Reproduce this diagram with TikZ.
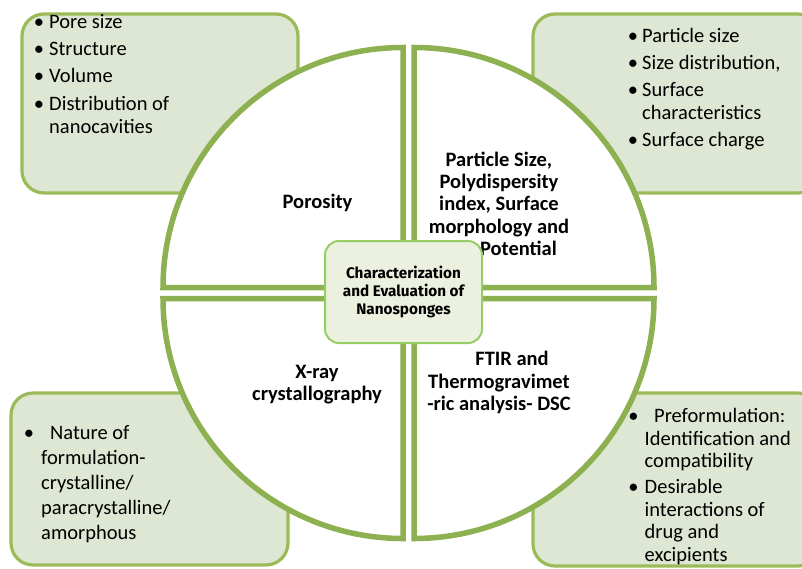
\documentclass[tikz,border=0pt]{standalone}
\usepackage{fontspec}
\setmainfont{Carlito}
\newfontfamily\hubfont{Fira Sans}
\definecolor{qgreen}{RGB}{141,176,80}
\definecolor{bgreen}{RGB}{155,187,89}
\definecolor{bfill}{RGB}{221,231,211}
\definecolor{hubfill}{RGB}{235,241,222}
\definecolor{hubline}{RGB}{150,205,100}
\begin{document}
\begin{tikzpicture}[x=1pt,y=-1pt,
  quad/.style={draw=qgreen, line width=5.5pt, fill=white, line join=miter},
  sidebox/.style={draw=bgreen, line width=3.2pt, fill=bfill, rounded corners=22pt},
  hub/.style={draw=hubline, line width=2pt, fill=hubfill, rounded corners=14pt,
    minimum width=157pt, minimum height=102pt, inner sep=0pt, align=center,
    font=\hubfont\fontsize{15.3}{18.3}\selectfont\bfseries},
  li/.style={anchor=base west, inner sep=0pt, font=\fontsize{20.5}{24}\selectfont},
  bul/.style={anchor=base, inner sep=0pt, font=\fontsize{20.5}{24}\selectfont},
  qt/.style={anchor=base, inner sep=0pt, font=\fontsize{20.5}{24}\selectfont\bfseries},
]
\useasboundingbox (0,0) rectangle (802,568);
\clip (0,0) rectangle (802,568);
% side boxes
\draw[sidebox] (22,14) rectangle (298,193);
\draw[sidebox] (533,14) rectangle (820,193);
\draw[sidebox] (11,393) rectangle (288,565);
\draw[sidebox] (533,393) rectangle (820,566);
% quadrants
\draw[quad] (403,287.5) -- (403,47.5) arc[start angle=270, end angle=180, radius=240] -- cycle;
\draw[quad] (414,287.5) -- (414,47.5) arc[start angle=270, end angle=360, radius=240] -- cycle;
\draw[quad] (403,298.5) -- (163,298.5) arc[start angle=180, end angle=90, radius=240] -- cycle;
\draw[quad] (414,298.5) -- (654,298.5) arc[start angle=0, end angle=90, radius=240] -- cycle;
% quadrant texts
\node[qt] (por) at (317.5,208) {Porosity};
\node[qt] (ps1) at (499,166) {Particle Size,};
\node[qt] (ps2) at (499,188.3) {Polydispersity};
\node[qt] (ps3) at (499,210.7) {index, Surface};
\node[qt] (ps4) at (499,233.3) {morphology and};
\node[qt, anchor=base east] (ps5) at (557,255) {Potential};
\node[qt] (xr1) at (317,378) {X-ray};
\node[qt] (xr2) at (317,400) {crystallography};
\node[qt] (ft1) at (512,365) {FTIR and};
\node[qt] (ft2) at (499,388) {Thermogravimet};
\node[qt] (ft3) at (499,410) {-ric analysis- DSC};
% hub
\node[hub] (hubnode) at (403.5,292) {Characterization\\and Evaluation of\\Nanosponges};
% top-left list
\node[bul] (tlb1) at (39,28) {\textbullet};
\node[li] (tl1) at (49,28) {Pore size};
\node[bul] (tlb2) at (39,55.5) {\textbullet};
\node[li] (tl2) at (49,55.5) {Structure};
\node[bul] (tlb3) at (39,82.5) {\textbullet};
\node[li] (tl3) at (49,82.5) {Volume};
\node[bul] (tlb4) at (39,110) {\textbullet};
\node[li] (tl4) at (49,110) {Distribution of};
\node[li] (tl5) at (49,133) {nanocavities};
% top-right list
\node[bul] (trb1) at (633,42.5) {\textbullet};
\node[li] (tr1) at (642,42.5) {Particle size};
\node[bul] (trb2) at (633,69.5) {\textbullet};
\node[li] (tr2) at (642,69.5) {Size distribution,};
\node[bul] (trb3) at (633,96.5) {\textbullet};
\node[li] (tr3) at (642,96.5) {Surface};
\node[li] (tr4) at (642,119.5) {characteristics};
\node[bul] (trb4) at (633,146.5) {\textbullet};
\node[li] (tr5) at (642,146.5) {Surface charge};
% bottom-left list
\node[bul] (blb1) at (29,439.3) {\textbullet};
\node[li] (bl1) at (50,439.3) {Nature of};
\node[li] (bl2) at (41,464) {formulation-};
\node[li] (bl3) at (41,489.3) {crystalline/};
\node[li] (bl4) at (41,514.3) {paracrystalline/};
\node[li] (bl5) at (41,539) {amorphous};
% bottom-right list
\node[bul] (brb1) at (633.5,422.3) {\textbullet};
\node[li] (br1) at (654,422.3) {Preformulation:};
\node[li] (br2) at (644.5,445) {Identification and};
\node[li] (br3) at (644.5,467.7) {compatibility};
\node[bul] (brb2) at (633.5,493.7) {\textbullet};
\node[li] (br4) at (644.5,493.7) {Desirable};
\node[li] (br5) at (644.5,516) {interactions of};
\node[li] (br6) at (644.5,538.3) {drug and};
\node[li] (br7) at (644.5,561) {excipients};
\end{tikzpicture}
\end{document}
